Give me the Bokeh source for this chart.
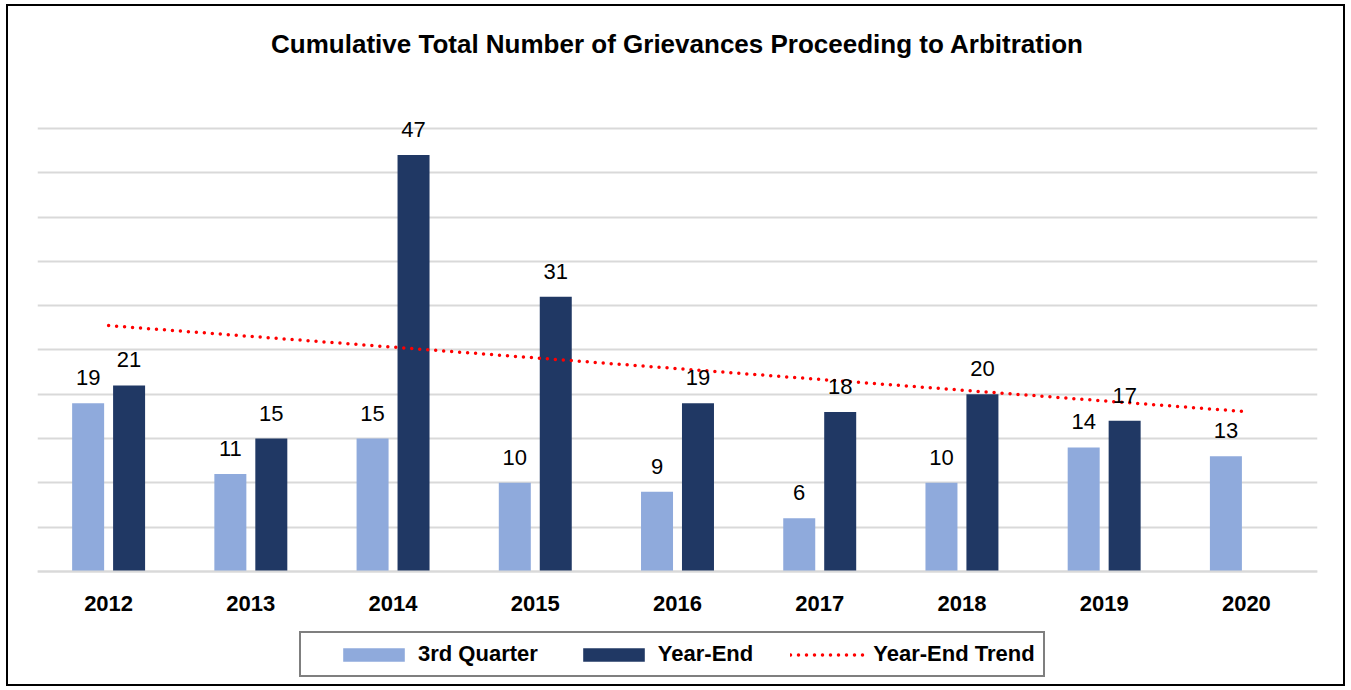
import numpy as np
from bokeh.plotting import figure
from bokeh.models import (ColumnDataSource, FactorRange, Range1d, FixedTicker,
                          Legend, LegendItem, LabelSet, Label)
from bokeh.transform import dodge
from bokeh.core.properties import value
from bokeh.embed import file_html
from bokeh.resources import INLINE

# ---- data ----
years = ["2012", "2013", "2014", "2015", "2016", "2017", "2018", "2019", "2020"]
third_quarter = [19, 11, 15, 10, 9, 6, 10, 14, 13]
year_end = [21, 15, 47, 31, 19, 18, 20, 17, None]
title_text = "Cumulative Total Number of Grievances Proceeding to Arbitration"
series_names = ["3rd Quarter", "Year-End", "Year-End Trend"]
grid_ticks = [0, 5, 10, 15, 20, 25, 30, 35, 40, 45, 50]

FONT = "Liberation Sans"
LIGHT = "#8FAADC"
DARK = "#203864"

# linear trend of year-end values (as the spreadsheet trendline)
idx = [i for i, v in enumerate(year_end) if v is not None]
coef = np.polyfit(idx, [year_end[i] for i in idx], 1)
trend_x = [years[0], years[-1]]
trend_y = [float(np.polyval(coef, 0)), float(np.polyval(coef, len(years) - 1))]

src_q = ColumnDataSource(dict(year=years, val=third_quarter,
                              txt=[str(v) for v in third_quarter]))
ye_years = [y for y, v in zip(years, year_end) if v is not None]
ye_vals = [v for v in year_end if v is not None]
src_y = ColumnDataSource(dict(year=ye_years, val=ye_vals,
                              txt=[str(v) for v in ye_vals]))

p = figure(x_range=FactorRange(*years), y_range=Range1d(-13.21, 63.77),
           width=1339, height=682, output_backend="svg", toolbar_location=None,
           title=None,
           min_border_left=29, min_border_right=30, min_border_top=0,
           min_border_bottom=0,
           styles={"border": "2px solid black", "margin": "4px 0px 0px 6px"})

OFF = 0.144
BW = 0.225
r1 = p.vbar(x=dodge('year', -OFF, range=p.x_range), top='val', width=BW,
            source=src_q, fill_color=LIGHT, line_color=None)
r2 = p.vbar(x=dodge('year', OFF, range=p.x_range), top='val', width=BW,
            source=src_y, fill_color=DARK, line_color=None)
r3 = p.line(x=trend_x, y=trend_y, line_color="#FF0000", line_width=3.5,
            line_dash="0 8", line_cap="round")

for src, off in ((src_q, -OFF), (src_y, OFF)):
    p.add_layout(LabelSet(x=dodge('year', off, range=p.x_range), y='val', text='txt',
                          source=src, text_align='center', y_offset=18,
                          text_font=value(FONT), text_font_size="22px",
                          text_color="black"))

p.add_layout(Label(x=640, y=645, x_units="screen", y_units="screen",
                   text=title_text, text_align="center",
                   text_baseline="alphabetic", text_font=FONT,
                   text_font_size="26px", text_font_style="bold",
                   text_color="black"))

p.yaxis.visible = False
p.ygrid.ticker = FixedTicker(ticks=grid_ticks)
p.ygrid.grid_line_color = "#D9D9D9"
p.ygrid.grid_line_width = 2
p.xgrid.visible = False
p.outline_line_color = None

p.xaxis.fixed_location = 0
p.xaxis.axis_line_color = "#D9D9D9"
p.xaxis.axis_line_width = 2
p.xaxis.major_tick_line_color = None
p.xaxis.minor_tick_line_color = None
p.xaxis.major_label_text_font = FONT
p.xaxis.major_label_text_font_style = "bold"
p.xaxis.major_label_text_font_size = "22px"
p.xaxis.major_label_text_color = "black"
p.xaxis.major_label_standoff = 19

legend = Legend(items=[LegendItem(label=series_names[0], renderers=[r1]),
                       LegendItem(label=series_names[1], renderers=[r2]),
                       LegendItem(label=series_names[2], renderers=[r3])],
                orientation="horizontal", location=(262, 11),
                title=" ", title_location="left", title_standoff=0,
                title_text_font_size="22px",
                border_line_color="black", border_line_width=2,
                padding=8, spacing=37, glyph_width=77, glyph_height=17,
                label_standoff=6, label_text_font=FONT,
                label_text_font_style="bold", label_text_font_size="22px",
                label_text_color="black", margin=0)
p.add_layout(legend, "center")

open("out.html", "w").write(file_html(p, INLINE))
